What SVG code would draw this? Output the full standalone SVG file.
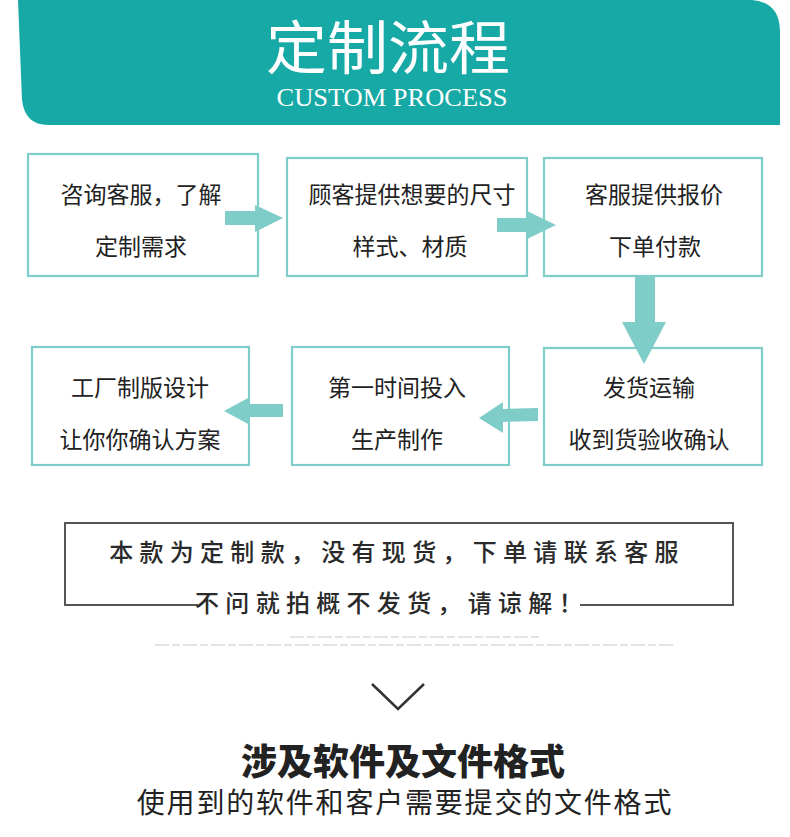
<svg xmlns="http://www.w3.org/2000/svg" width="790" height="837" viewBox="0 0 790 837">
<style>
.box{fill:#fff;stroke:#7fcdc8;stroke-width:2.2}
.arr{fill:#7ecdc8}
.t{font-family:"Noto Sans CJK SC","Noto Sans",sans-serif;font-size:23px;fill:#222;text-anchor:middle}
.n{font-family:"Noto Sans CJK SC","Noto Sans",sans-serif;font-size:24px;font-weight:500;fill:#2a2a2a;text-anchor:middle;letter-spacing:6.3px}
</style>
<rect width="790" height="837" fill="#fff"/>
<g id="header">
<path d="M18,0 L752,0 Q780,2 780,32 L780,125 L48,125 Q25,125 22,100 Z" fill="#17a9a5"/>
<text x="388" y="69" font-family="Noto Sans CJK SC,sans-serif" font-size="58" fill="#fff" text-anchor="middle" textLength="244" lengthAdjust="spacingAndGlyphs">定制流程</text>
<text x="392" y="106" font-family="Liberation Serif,serif" font-size="25" fill="#fff" text-anchor="middle" textLength="231" lengthAdjust="spacingAndGlyphs">CUSTOM PROCESS</text>
</g>
<g id="n1"><rect class="box" x="28" y="154" width="230" height="122"/><text class="t" x="141" y="203">咨询客服，了解</text><text class="t" x="141" y="255">定制需求</text></g>
<g id="n2"><rect class="box" x="287" y="158" width="240" height="118"/><text class="t" x="412" y="203">顾客提供想要的尺寸</text><text class="t" x="410" y="255">样式、材质</text></g>
<g id="n3"><rect class="box" x="544" y="158" width="218" height="118"/><text class="t" x="654" y="203">客服提供报价</text><text class="t" x="655" y="255">下单付款</text></g>
<g id="n4"><rect class="box" x="544" y="348" width="218" height="117"/><text class="t" x="649" y="396">发货运输</text><text class="t" x="649" y="448">收到货验收确认</text></g>
<g id="n5"><rect class="box" x="292" y="347" width="217" height="118"/><text class="t" x="397" y="396">第一时间投入</text><text class="t" x="397" y="448">生产制作</text></g>
<g id="n6"><rect class="box" x="32" y="347" width="217" height="118"/><text class="t" x="140" y="396">工厂制版设计</text><text class="t" x="140" y="448">让你你确认方案</text></g>
<g id="connectors">
<path class="arr" d="M225,211 H255 V205 L283,218 L255,232 V225 H225 Z"/>
<path class="arr" d="M497,218 H527 V211 L556,225 L527,239 V232 H497 Z"/>
<path class="arr" d="M635,276 H655 V322 H666 L644,364 L622,322 H635 Z"/>
<path class="arr" d="M538,408 L538,421 L503,422 L503,433 L479,418 L503,402 L503,409 Z"/>
<path class="arr" d="M283,404 V417 H250 V425 L224,411 L250,397 V404 Z"/>
</g>
<g id="notice">
<path d="M198,605 H65 V523 H733 V605 H580" fill="none" stroke="#555" stroke-width="2"/>
<text class="n" x="397" y="561">本款为定制款，没有现货，下单请联系客服</text>
<text class="n" x="392" y="612">不问就拍概不发货，请谅解！</text>
<line x1="290" y1="637" x2="540" y2="637" stroke="#e4e4e4" stroke-width="2" stroke-dasharray="14,3,8,3"/>
<line x1="155" y1="645" x2="675" y2="645" stroke="#e4e4e4" stroke-width="2" stroke-dasharray="14,3,8,3"/>
</g>
<g id="footer">
<path d="M372,684 L398,709 L424,684" fill="none" stroke="#333" stroke-width="2.5"/>
<text x="403" y="775" font-family="Noto Sans CJK SC,sans-serif" font-size="36" font-weight="900" fill="#222" text-anchor="middle">涉及软件及文件格式</text>
<text x="405" y="813" font-family="Noto Sans CJK SC,sans-serif" font-size="28" fill="#222" text-anchor="middle" letter-spacing="1.8">使用到的软件和客户需要提交的文件格式</text>
</g>
</svg>
